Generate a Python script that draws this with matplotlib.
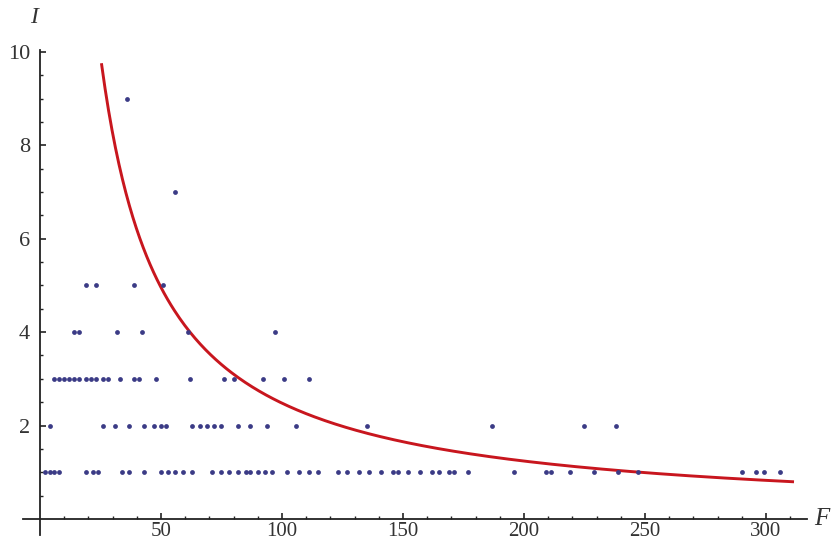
import matplotlib
matplotlib.use("Agg")
import matplotlib.pyplot as plt
import numpy as np

# points, grouped by their I value
f_at_1 = [2, 4, 6, 8, 19, 22, 24, 34, 37, 43, 50, 53, 56, 59, 63, 71, 75, 78,
          82, 85, 87, 90, 93, 96, 102, 107, 111, 115, 123, 127, 132, 136, 141,
          146, 148, 152, 157, 162, 165, 169, 171, 177, 196, 209, 211, 219, 229,
          239, 247, 290, 296, 299, 306]
f_at_2 = [4, 26, 31, 37, 43, 47, 50, 52, 63, 66, 69, 72, 75, 82, 87, 94, 106,
          135, 187, 225, 238]
f_at_3 = [6, 8, 10, 12, 14, 16, 19, 21, 23, 26, 28, 33, 39, 41, 48, 62, 76, 80,
          92, 101, 111]
f_at_4 = [14, 16, 32, 42, 61, 97]
f_at_5 = [19, 23, 39, 51]
f_at_7 = [56]
f_at_9 = [36]

# fitted curve I = a / F
fit_a = 248
fit_range = (25.5, 311)

xs, ys = [], []
for val, fs in [(1, f_at_1), (2, f_at_2), (3, f_at_3), (4, f_at_4),
                (5, f_at_5), (7, f_at_7), (9, f_at_9)]:
    xs += fs
    ys += [val] * len(fs)

fig = plt.figure(figsize=(8.32, 5.47), dpi=100)
ax = fig.add_axes([0, 0, 1, 1])
ax.set_xlim(-16.5, 327.3)
ax.set_ylim(-0.6, 11.11)

ax.scatter(xs, ys, s=12, color="#3b3b86", zorder=3, linewidths=0)

fx = np.linspace(fit_range[0], fit_range[1], 400)
ax.plot(fx, fit_a / fx, color="#c8161e", lw=2.1, zorder=2)

for s in ["top", "right"]:
    ax.spines[s].set_visible(False)
ax.spines["left"].set_position(("data", 0))
ax.spines["bottom"].set_position(("data", 0))
ax.spines["left"].set_bounds(-0.34, 10.05)
ax.spines["bottom"].set_bounds(-7, 317)
for s in ["left", "bottom"]:
    ax.spines[s].set_linewidth(1.3)
    ax.spines[s].set_color("#222222")

ax.set_xticks([50, 100, 150, 200, 250, 300])
ax.set_yticks([2, 4, 6, 8, 10])
ax.set_xticks([v for v in range(10, 320, 10) if v % 50], minor=True)
ax.set_yticks([v / 2 for v in range(1, 21) if v % 4], minor=True)

ax.tick_params(which="both", direction="in")
ax.tick_params(which="major", length=4, width=1.2, color="#222222",
               labelsize=16, labelcolor="#333333")
ax.tick_params(which="minor", length=2.5, width=1.0, color="#222222")
ax.tick_params(axis="x", which="major", pad=2.5, labelsize=15)
ax.tick_params(axis="y", which="major", pad=7)
for lab in ax.get_xticklabels() + ax.get_yticklabels():
    lab.set_family("Liberation Serif")

ax.text(320, 0, "F", family="Liberation Serif", style="italic", fontsize=18,
        va="center", ha="left", color="#333333")
ax.text(-1.0, 10.5, "I", family="Liberation Serif", style="italic",
        fontsize=17, va="bottom", ha="right", color="#333333")

fig.savefig("out.png", dpi=100)
